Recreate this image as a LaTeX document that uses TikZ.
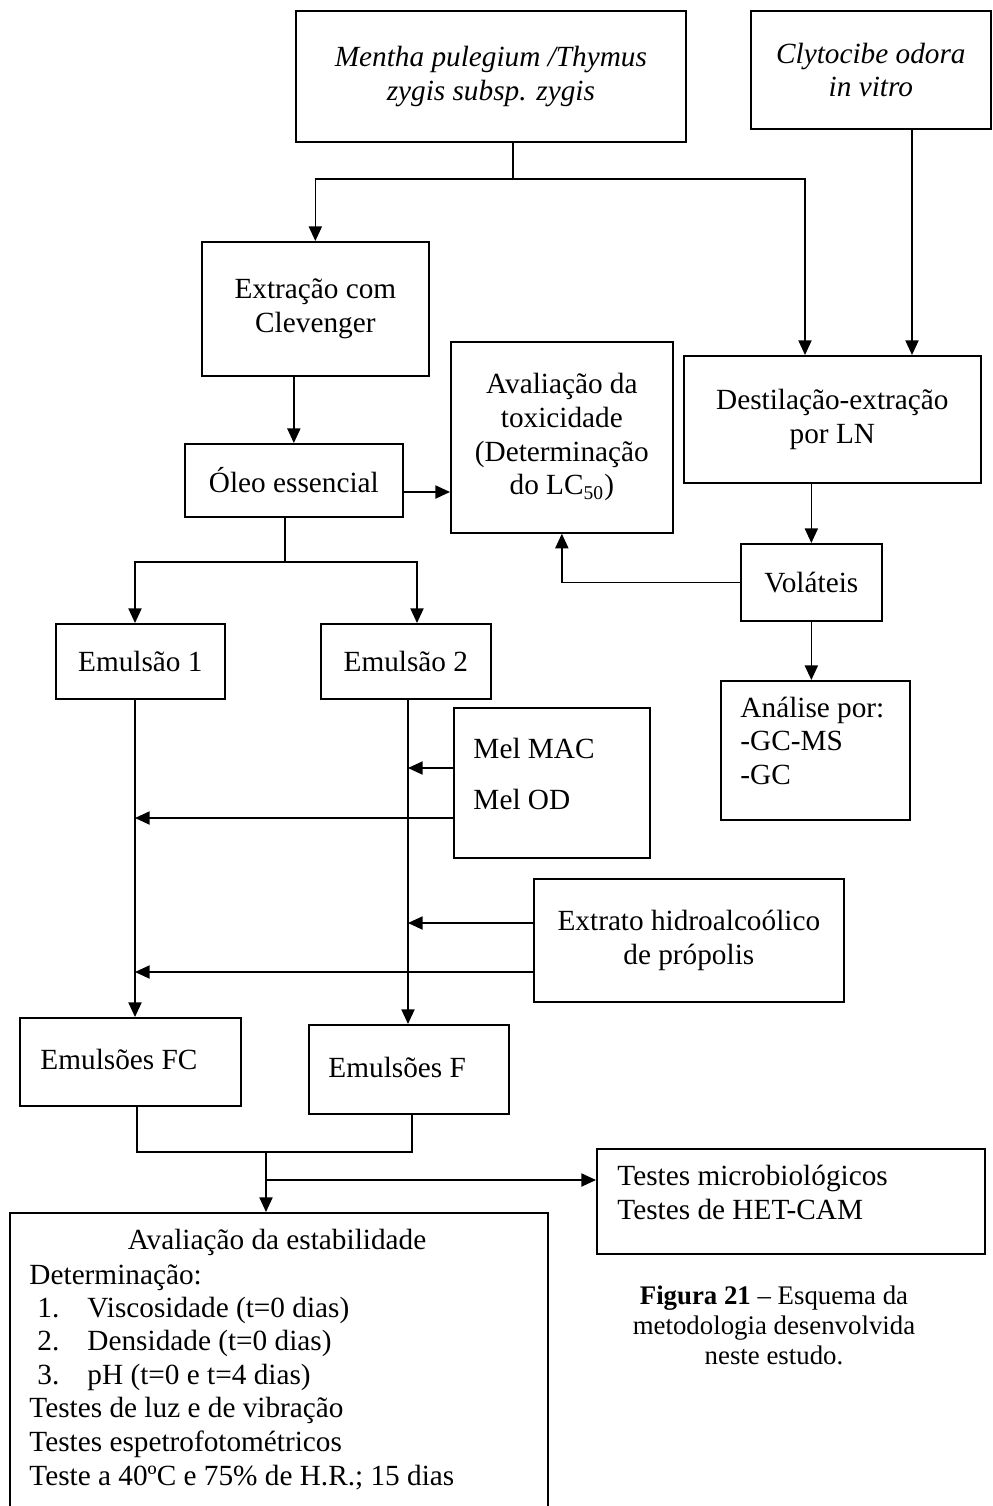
\documentclass[tikz,border=0pt]{standalone}
\usepackage{fontspec}
\setmainfont{Liberation Serif}
\usetikzlibrary{arrows.meta}
\newdimen\pxd \pxd=0.41pt
\begin{document}
\begin{tikzpicture}[x=0.41pt,y=-0.41pt,
  box/.style={draw, line width=0.7pt, inner sep=0pt, anchor=north west, align=center, font=\fontsize{12}{13.8}\selectfont},
  it/.style={font=\fontsize{12}{13.8}\selectfont\itshape},
  txt/.style={inner sep=0pt, anchor=base west, font=\fontsize{12}{13.8}\selectfont},
  conn/.style={line width=0.6pt},
  arr/.style={conn, -{Triangle[length=6pt,width=5.4pt]}}]
\useasboundingbox (0,0) rectangle (993,1506);
% boxes
\node[box, it, minimum width=390\pxd, minimum height=131\pxd] (mentha) at (295,10) {Mentha pulegium /Thymus\\zygis subsp. zygis};
\node[box, it, minimum width=240\pxd, minimum height=118\pxd] (clyto) at (750,10) {Clytocibe odora\\in vitro};
\node[box, minimum width=227\pxd, minimum height=134\pxd] (extr) at (201,241) {Extração com\\Clevenger};
\node[box, minimum width=222\pxd, minimum height=191\pxd] (tox) at (450,341) {Avaliação da\\toxicidade\\(Determinação\\do LC\textsubscript{50})};
\node[box, minimum width=297\pxd, minimum height=127\pxd] (dest) at (683,355) {Destilação-extração\\por LN};
\node[box, minimum width=218\pxd, minimum height=73\pxd] (oleo) at (184,443) {Óleo essencial};
\node[box, minimum width=141\pxd, minimum height=77\pxd] (vol) at (740,543) {Voláteis};
\node[box, minimum width=189\pxd, minimum height=139\pxd] (anal) at (720,680) {};
\node[box, minimum width=169\pxd, minimum height=75\pxd] (em1) at (55,623) {Emulsão 1};
\node[box, minimum width=170\pxd, minimum height=75\pxd] (em2) at (320,623) {Emulsão 2};
\node[box, minimum width=196\pxd, minimum height=150\pxd] (mel) at (453,707) {};
\node[box, minimum width=310\pxd, minimum height=123\pxd] (extrato) at (533,878) {Extrato hidroalcoólico\\de própolis};
\node[box, minimum width=221\pxd, minimum height=88\pxd] (emfc) at (19,1017) {};
\node[box, minimum width=200\pxd, minimum height=89\pxd] (emf) at (308,1024) {};
\node[box, minimum width=388\pxd, minimum height=105\pxd] (testes) at (596,1148) {};
\node[box, minimum width=538\pxd, minimum height=300\pxd] (avest) at (9,1212) {};
% texts
\node[txt] (an1) at (740,717) {Análise por:};
\node[txt] (an2) at (740,750) {-GC-MS};
\node[txt] (an3) at (740,784) {-GC};
\node[txt] (me1) at (473,758) {Mel MAC};
\node[txt] (me2) at (473,809) {Mel OD};
\node[txt] (fc) at (40,1069) {Emulsões FC};
\node[txt] (f) at (328,1077) {Emulsões F};
\node[txt] (te1) at (617,1185) {Testes microbiológicos};
\node[txt] (te2) at (617,1219) {Testes de HET-CAM};
\node[txt, anchor=base] (av0) at (277,1249) {Avaliação da estabilidade};
\node[txt] (av1) at (29,1284) {Determinação:};
\node[txt] (av2n) at (37,1317) {1.};
\node[txt] (av2) at (87,1317) {Viscosidade (t=0 dias)};
\node[txt] (av3n) at (37,1350) {2.};
\node[txt] (av3) at (87,1350) {Densidade (t=0 dias)};
\node[txt] (av4n) at (37,1384) {3.};
\node[txt] (av4) at (87,1384) {pH (t=0 e t=4 dias)};
\node[txt] (av5) at (29,1417) {Testes de luz e de vibração};
\node[txt] (av6) at (29,1451) {Testes espetrofotométricos};
\node[txt] (av7) at (29,1485) {Teste a 40ºC e 75\% de H.R.; 15 dias};
\node[font=\fontsize{11}{12.3}\selectfont, align=center, inner sep=0pt] (cap) at (774,1325) {\textbf{Figura 21} – Esquema da\\metodologia desenvolvida\\neste estudo.};
% connectors
\coordinate (j1) at (513,179);
\coordinate (j1r) at (805,179);
\draw[conn] (mentha.south -| j1) -- (j1);
\draw[arr] (j1) -| (extr.north);
\draw[arr] (j1) -- (j1r) -- (j1r |- dest.north);
\coordinate (c1) at (912,0);
\draw[arr] (clyto.south -| c1) -- (dest.north -| c1);
\draw[arr] (extr.south -| oleo.north) -- (oleo.north);
\coordinate (o1) at (0,492);
\draw[arr] (oleo.east |- o1) -- (tox.west |- o1);
\draw[arr] (dest.south -| vol.north) -- (vol.north);
\draw[arr] (vol.west) -| (tox.south);
\draw[arr] (vol.south) -- (vol.south |- anal.north);
\coordinate (j2) at (285,562);
\coordinate (e1) at (135,0);
\coordinate (e2) at (408,0);
\coordinate (e2a) at (417,0);
\draw[conn] (oleo.south -| j2) -- (j2);
\draw[arr] (j2) -| (em1.north -| e1);
\draw[arr] (j2) -| (em2.north -| e2a);
\draw[arr] (em1.south -| e1) -- (emfc.north -| e1);
\draw[arr] (em2.south -| e2) -- (emf.north -| e2);
\coordinate (m1) at (0,768);
\coordinate (m2) at (0,818);
\draw[arr] (mel.west |- m1) -- (e2 |- m1);
\draw[arr] (mel.west |- m2) -- (e1 |- m2);
\coordinate (p1) at (0,923);
\coordinate (p2) at (0,972);
\draw[arr] (extrato.west |- p1) -- (e2 |- p1);
\draw[arr] (extrato.west |- p2) -- (e1 |- p2);
\coordinate (b1) at (137,1152);
\coordinate (b2) at (412,1152);
\coordinate (j3) at (266,1152);
\draw[conn] (emfc.south -| b1) -- (b1) -- (b2) -- (emf.south -| b2);
\draw[arr] (j3) -- (avest.north -| j3);
\coordinate (t1) at (266,1180);
\draw[arr] (t1) -- (testes.west |- t1);
\end{tikzpicture}
\end{document}
